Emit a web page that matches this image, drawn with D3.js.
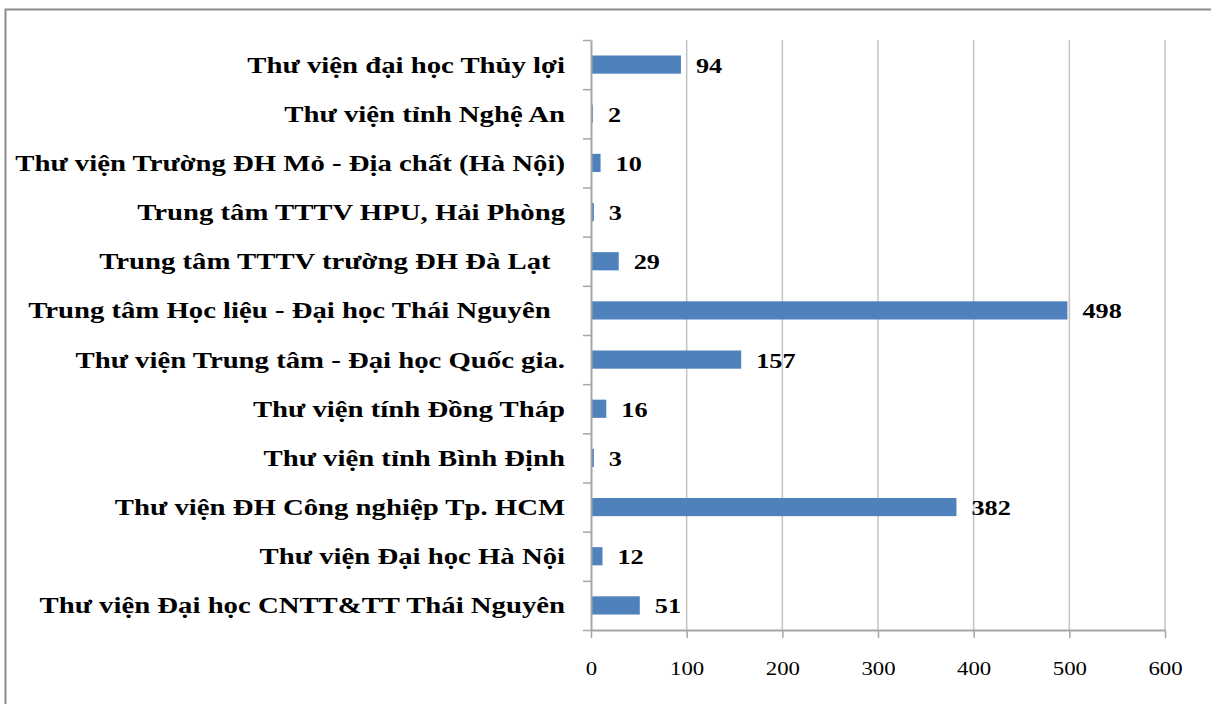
<!DOCTYPE html>
<html>
<head>
<meta charset="utf-8">
<script src="https://cdn.jsdelivr.net/npm/d3@7"></script>
<style>
  html, body { margin: 0; padding: 0; background: #fff; }
  svg { display: block; }
  text { font-family: "Liberation Serif", "Times New Roman", serif; fill: #000; }
</style>
</head>
<body>
<script>
const categories = [
  "Thư viện đại học Thủy lợi",
  "Thư viện tỉnh Nghệ An",
  "Thư viện Trường ĐH Mỏ - Địa chất (Hà Nội)",
  "Trung tâm TTTV HPU, Hải Phòng",
  "Trung tâm TTTV trường ĐH Đà Lạt  ",
  "Trung tâm Học liệu - Đại học Thái Nguyên  ",
  "Thư viện Trung tâm - Đại học Quốc gia.",
  "Thư viện tính Đồng Tháp",
  "Thư viện tỉnh Bình Định",
  "Thư viện ĐH Công nghiệp Tp. HCM",
  "Thư viện Đại học Hà Nội",
  "Thư viện Đại học CNTT&TT Thái Nguyên"
];
const values = [94, 2, 10, 3, 29, 498, 157, 16, 3, 382, 12, 51];
const xTicks = [0, 100, 200, 300, 400, 500, 600];

const W = 1211, H = 704;
const plot = { left: 591, right: 1165, top: 40, bottom: 630 };
const SX = 1.25; // horizontal stretch of the text in the reference

const svg = d3.select("body").append("svg").attr("width", W).attr("height", H);

// outer frame
svg.append("rect").attr("x", 5.5).attr("y", 9.5).attr("width", W + 20).attr("height", H + 20)
  .attr("fill", "#fff").attr("stroke", "#8c8c8c").attr("stroke-width", 2);

const x = d3.scaleLinear().domain([0, 600]).range([plot.left, plot.right]);
const y = d3.scaleBand().domain(categories).range([plot.top, plot.bottom]).paddingInner(0.63).paddingOuter(0.315);
const yIdx = d3.scaleLinear().domain([0, categories.length]).range([plot.top, plot.bottom]);

// gridlines
svg.append("g").selectAll("line").data(xTicks.filter(d => d > 0)).join("line")
  .attr("x1", d => x(d)).attr("x2", d => x(d))
  .attr("y1", plot.top).attr("y2", plot.bottom)
  .attr("stroke", "#c4c4c4").attr("stroke-width", 1.5);

// bars
svg.append("g").selectAll("rect").data(values).join("rect")
  .attr("x", x(0)).attr("y", (d, i) => y(categories[i]))
  .attr("width", d => x(d) - x(0)).attr("height", y.bandwidth())
  .attr("fill", "#4f81bd");

// x axis
const xa = svg.append("g").attr("transform", `translate(0,${plot.bottom})`)
  .call(d3.axisBottom(x).tickValues(xTicks).tickSize(8).tickSizeOuter(0).tickFormat(d3.format("d")));
xa.select(".domain").attr("stroke", "#a6a6a6").attr("stroke-width", 2);
xa.selectAll(".tick line").attr("stroke", "#a6a6a6").attr("stroke-width", 1.5);
xa.selectAll(".tick text").attr("y", 0).attr("dy", null)
  .attr("transform", `translate(0,45) scale(${1.2},1)`)
  .attr("font-size", 19).attr("font-family", "Liberation Serif");

// y axis (ticks on category boundaries)
const ya = svg.append("g").attr("transform", `translate(${plot.left},0)`)
  .call(d3.axisLeft(yIdx).tickValues(d3.range(categories.length + 1)).tickSize(8).tickSizeOuter(0).tickFormat(""));
ya.select(".domain").attr("stroke", "#a6a6a6").attr("stroke-width", 2);
ya.selectAll(".tick line").attr("stroke", "#a6a6a6").attr("stroke-width", 1.5);

// category labels
svg.append("g").selectAll("text").data(categories).join("text")
  .attr("transform", d => `translate(565,${y(d) + y.bandwidth() / 2 + 8}) scale(${SX},1)`)
  .attr("text-anchor", "end")
  .style("white-space", "pre")
  .attr("font-weight", "bold").attr("font-size", 23)
  .text(d => d);

// value labels
svg.append("g").selectAll("text").data(values).join("text")
  .attr("transform", (d, i) => `translate(${x(d) + 15},${y(categories[i]) + y.bandwidth() / 2 + 8}) scale(${SX},1)`)
  .attr("font-weight", "bold").attr("font-size", 21)
  .text(d => d);
</script>
</body>
</html>
